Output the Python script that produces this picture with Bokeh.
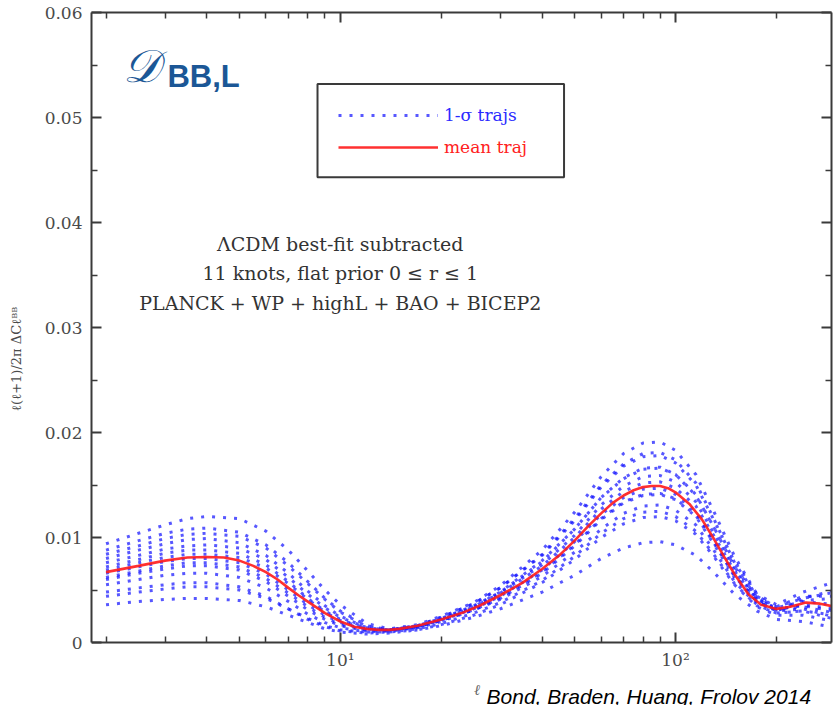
from bokeh.plotting import figure
from bokeh.models import (Range1d, FixedTicker, LogAxis, LinearAxis, Label,
                          Legend, LegendItem, BoxAnnotation, ColumnDataSource,
                          BasicTickFormatter)
from bokeh.embed import file_html
from bokeh.resources import INLINE

# ---------------- data ----------------
ell = [2, 2.5, 3, 3.5, 4, 5, 6, 7, 8, 9, 10, 12, 14, 17, 20, 25, 30, 40, 50,
       60, 70, 80, 90, 100, 115, 130, 150, 175, 200, 240, 300]

mean_ell = [2, 2.5, 3, 3.5, 4, 4.5, 5, 5.5, 6, 6.5, 7, 7.5, 8, 9, 10, 11, 12, 13, 14,
            15, 17, 20, 23, 26, 30, 35, 40, 45, 50, 55, 60, 65, 70, 75, 80, 85, 90,
            95, 100, 110, 120, 130, 140, 150, 165, 180, 200, 220, 245, 270, 300]
mean_traj = [.0067, .0073, .0078, .0081, .00815, .0081, .0078, .0073, .0067, .0060,
             .0052, .0045, .0039, .0028, .0020, .0015, .0013, .0012, .0012, .0013,
             .0016, .0022, .0028, .0035, .0045, .0057, .0070, .0083, .0097, .0111,
             .0123, .0133, .0140, .0145, .0148, .0149, .0149, .0147, .0143, .0132,
             .0117, .0099, .0081, .0065, .0046, .0036, .0032, .0034, .0038, .0037, .0034]

traj_01 = [.0094, .0104, .0112, .0118, .0120, .0118, .0106, .0088, .0068, .0050, .0036, .0018, .0013, .0017, .0025, .0038, .0054, .0088, .0124, .0158, .0180, .0190, .0191, .0183, .0160, .0125, .0082, .0046, .0030, .0042, .0050]
traj_02 = [.0088, .0097, .0104, .0108, .0109, .0105, .0093, .0076, .0058, .0042, .0030, .0016, .0012, .0016, .0023, .0035, .0048, .0077, .0108, .0138, .0156, .0165, .0166, .0160, .0140, .0110, .0072, .0042, .0030, .0040, .0042]
traj_03 = [.0080, .0088, .0094, .0098, .0099, .0095, .0083, .0066, .0049, .0035, .0025, .0014, .0012, .0016, .0024, .0037, .0052, .0084, .0118, .0150, .0170, .0180, .0181, .0174, .0152, .0118, .0076, .0044, .0034, .0044, .0044]
traj_04 = [.0072, .0079, .0085, .0088, .0088, .0085, .0074, .0058, .0042, .0030, .0022, .0013, .0012, .0015, .0022, .0034, .0047, .0074, .0102, .0131, .0149, .0158, .0159, .0153, .0134, .0104, .0068, .0041, .0033, .0039, .0036]
traj_05 = [.0066, .0072, .0077, .0080, .0080, .0076, .0065, .0050, .0036, .0026, .0019, .0012, .0011, .0014, .0020, .0031, .0042, .0066, .0092, .0117, .0133, .0140, .0141, .0136, .0120, .0094, .0062, .0038, .0031, .0036, .0032]
traj_06 = [.0060, .0066, .0070, .0073, .0073, .0069, .0058, .0044, .0031, .0022, .0016, .0011, .0011, .0015, .0022, .0034, .0047, .0073, .0100, .0127, .0144, .0152, .0153, .0147, .0130, .0102, .0068, .0041, .0032, .0035, .0030]
traj_07 = [.0055, .0060, .0064, .0066, .0066, .0062, .0052, .0039, .0027, .0019, .0014, .0010, .0010, .0013, .0018, .0028, .0038, .0059, .0082, .0104, .0118, .0124, .0125, .0120, .0106, .0084, .0056, .0035, .0028, .0030, .0026]
traj_08 = [.0048, .0052, .0055, .0057, .0057, .0053, .0044, .0032, .0022, .0015, .0011, .0009, .0010, .0012, .0016, .0024, .0032, .0048, .0064, .0080, .0090, .0095, .0096, .0093, .0083, .0067, .0046, .0030, .0022, .0020, .0014]
traj_09 = [.0036, .0039, .0041, .0042, .0042, .0040, .0034, .0026, .0019, .0013, .0010, .0008, .0009, .0012, .0017, .0026, .0036, .0057, .0079, .0100, .0113, .0119, .0120, .0116, .0103, .0082, .0055, .0034, .0026, .0026, .0020]
traj_10 = [.0062, .0068, .0073, .0076, .0076, .0072, .0061, .0047, .0034, .0024, .0017, .0012, .0012, .0016, .0024, .0037, .0052, .0083, .0116, .0148, .0168, .0177, .0178, .0171, .0150, .0117, .0077, .0046, .0036, .0048, .0058]
traj_11 = [.0076, .0083, .0089, .0092, .0093, .0090, .0079, .0062, .0046, .0033, .0024, .0014, .0012, .0015, .0021, .0032, .0044, .0069, .0096, .0122, .0138, .0146, .0147, .0141, .0124, .0097, .0064, .0039, .0031, .0034, .0028]
traj_12 = [.0044, .0048, .0051, .0053, .0053, .0050, .0042, .0032, .0023, .0016, .0012, .0010, .0011, .0015, .0022, .0034, .0048, .0078, .0108, .0138, .0157, .0166, .0167, .0160, .0141, .0110, .0072, .0043, .0034, .0042, .0048]
traj_13 = [.0084, .0092, .0099, .0103, .0104, .0101, .0090, .0073, .0056, .0041, .0029, .0015, .0012, .0015, .0021, .0031, .0043, .0067, .0093, .0118, .0134, .0141, .0142, .0137, .0121, .0095, .0063, .0039, .0030, .0032, .0024]
traj_14 = [.0069, .0076, .0081, .0084, .0084, .0081, .0071, .0056, .0041, .0029, .0021, .0013, .0012, .0015, .0021, .0031, .0041, .0063, .0086, .0108, .0123, .0130, .0131, .0126, .0112, .0088, .0058, .0036, .0028, .0030, .0022]

trajectories = [traj_01, traj_02, traj_03, traj_04, traj_05, traj_06, traj_07,
                traj_08, traj_09, traj_10, traj_11, traj_12, traj_13, traj_14]

y_ticks = [0, 0.01, 0.02, 0.03, 0.04, 0.05, 0.06]
y_tick_labels = ["0", "0.01", "0.02", "0.03", "0.04", "0.05", "0.06"]
y_minor = [0.005, 0.015, 0.025, 0.035, 0.045, 0.055]
x_ticks = [10, 100]
x_tick_labels = ["10\u00b9", "10\u00b2"]
x_minor = [2, 3, 4, 5, 6, 7, 8, 9, 20, 30, 40, 50, 60, 70, 80, 90, 200, 300]

note_lines = ["\u039bCDM best-fit subtracted",
              "11 knots, flat prior 0 \u2264 r \u2264 1",
              "PLANCK + WP + highL + BAO + BICEP2"]

# ---------------- figure ----------------
SERIF = "DejaVu Serif"
AX = "#3a3a3a"
TXT = "#4a4a4a"

# the frame runs to the bottom of the page; the x axis is pinned at y = 0
p = figure(width=835, height=705, x_axis_type="log",
           x_range=Range1d(1.81, 292), y_range=Range1d(-0.006, 0.06),
           output_backend="svg", toolbar_location=None,
           min_border_left=91, min_border_right=4, min_border_top=12,
           min_border_bottom=0)
p.outline_line_color = None
p.grid.visible = False
p.background_fill_color = "white"
p.border_fill_color = "white"

bottom_ax = p.below[0]
left_ax = p.left[0]
top_ax = LogAxis()
right_ax = LinearAxis()
p.add_layout(top_ax, "above")
p.add_layout(right_ax, "right")


def style_lines(ax):
    ax.axis_line_color = AX
    ax.axis_line_width = 2
    ax.major_tick_line_color = AX
    ax.minor_tick_line_color = AX
    ax.major_tick_line_width = 2
    ax.minor_tick_line_width = 1.5
    ax.major_tick_in = 10
    ax.major_tick_out = 0
    ax.minor_tick_in = 6
    ax.minor_tick_out = 0


for ax in (bottom_ax, top_ax, left_ax, right_ax):
    style_lines(ax)
    # plain-text formatters everywhere (no superscript graphics boxes)
    ax.formatter = BasicTickFormatter()

# bottom (pinned at y=0) with labels 10^1, 10^2
bottom_ax.ticker = FixedTicker(ticks=x_ticks, minor_ticks=x_minor)
bottom_ax.fixed_location = 0
bottom_ax.major_label_overrides = {t: s for t, s in zip(x_ticks, x_tick_labels)}
bottom_ax.major_label_text_font = SERIF
bottom_ax.major_label_text_font_size = "17px"
bottom_ax.major_label_text_color = TXT
bottom_ax.major_label_standoff = 7

# top and right: ticks only
top_ax.ticker = FixedTicker(ticks=x_ticks, minor_ticks=x_minor)
top_ax.major_label_overrides = {t: "" for t in x_ticks}
top_ax.major_label_text_font_size = "0px"
top_ax.major_label_standoff = 0

right_ax.ticker = FixedTicker(ticks=y_ticks, minor_ticks=y_minor)
right_ax.bounds = (0, 0.06)
right_ax.major_label_overrides = {t: "" for t in y_ticks}
right_ax.major_label_text_font_size = "0px"
right_ax.major_label_standoff = 0

left_ax.ticker = FixedTicker(ticks=y_ticks, minor_ticks=y_minor)
left_ax.bounds = (0, 0.06)
left_ax.major_label_overrides = {t: s for t, s in zip(y_ticks, y_tick_labels)}
left_ax.major_label_text_font = SERIF
left_ax.major_label_text_font_size = "17px"
left_ax.major_label_text_color = TXT
left_ax.major_label_standoff = 9
left_ax.axis_label = "\u2113(\u2113+1)/2\u03c0 \u0394C\u2113\u1d2e\u1d2e"
left_ax.axis_label_text_font = SERIF
left_ax.axis_label_text_font_size = "13px"
left_ax.axis_label_text_font_style = "normal"
left_ax.axis_label_text_color = TXT
left_ax.axis_label_standoff = 18

# x-axis symbol and the citation (inside the extended frame, below y = 0)
p.add_layout(Label(x=25.6, y=-0.0045, text="\u2113", text_align="center",
                   text_baseline="middle", text_font=SERIF,
                   text_font_size="15px", text_font_style="italic",
                   text_color="#666666"))
p.add_layout(Label(x=27.3, y=-0.0051, text="Bond, Braden, Huang, Frolov 2014",
                   text_align="left", text_baseline="middle",
                   text_font="Liberation Sans", text_font_size="21px",
                   text_font_style="italic", text_color="black"))

# ---------------- glyphs ----------------
traj_src = ColumnDataSource(dict(xs=[ell] * len(trajectories), ys=trajectories))
blue = p.multi_line("xs", "ys", source=traj_src, line_color="#1010ff",
                    line_alpha=0.7, line_width=3, line_dash="3 8")
red = p.line(mean_ell, mean_traj, line_color="#ff1a1a", line_width=2.6, line_alpha=0.9)

# ---------------- legend ----------------
box = BoxAnnotation(left=8.55, right=46.5, top=0.0532, bottom=0.0443,
                    fill_alpha=0, line_color=AX, line_alpha=1, line_width=2)
p.add_layout(box)

leg_a = Legend(items=[LegendItem(label="1-\u03c3 trajs", renderers=[blue])],
               location=(247, 580))
leg_b = Legend(items=[LegendItem(label="mean traj", renderers=[red])],
               location=(247, 548))
for lg, col in ((leg_a, "#2a2aff"), (leg_b, "#ff2020")):
    lg.border_line_color = None
    lg.background_fill_alpha = 0
    lg.padding = 0
    lg.margin = 0
    lg.spacing = 0
    lg.glyph_width = 100
    lg.glyph_height = 20
    lg.label_standoff = 6
    lg.label_text_font = SERIF
    lg.label_text_font_size = "17px"
    lg.label_text_color = col
    lg.label_height = 20
    p.add_layout(lg)

# ---------------- annotations ----------------
for txt, yv in zip(note_lines, [0.0380, 0.0352, 0.0323]):
    p.add_layout(Label(x=10, y=yv, text=txt, text_align="center",
                       text_baseline="middle", text_font=SERIF,
                       text_font_size="19px", text_color="#333333"))

p.add_layout(Label(x=2.24, y=0.0549, text="\U0001D49F", text_align="left",
                   text_baseline="middle", text_font="DejaVu Serif",
                   text_font_size="46px", text_font_style="italic",
                   text_color="#1b5796"))
p.add_layout(Label(x=3.05, y=0.0539, text="BB,L", text_align="left",
                   text_baseline="middle", text_font="Liberation Sans",
                   text_font_size="31px", text_font_style="bold",
                   text_color="#1b5796"))

open("out.html", "w").write(file_html(p, INLINE))
